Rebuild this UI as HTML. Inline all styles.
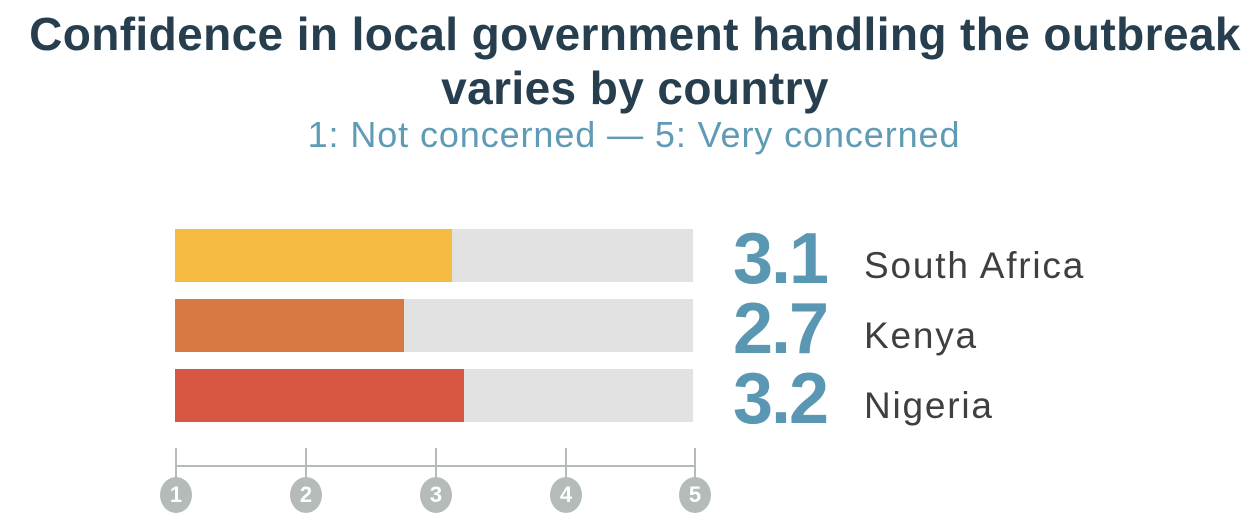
<!DOCTYPE html>
<html><head><meta charset="utf-8"><style>
body{margin:0;width:1260px;height:526px;background:#fff;font-family:"Liberation Sans",sans-serif;position:relative;overflow:hidden}
.t{position:absolute;left:0;width:1270px;text-align:center;font-weight:bold;color:#263e4d;font-size:46px;line-height:52px;letter-spacing:0.4px;white-space:nowrap}
.s{position:absolute;left:0;width:1268px;text-align:center;color:#5f9bb5;font-size:36px;letter-spacing:0.9px;top:114px}
.bg{position:absolute;left:175px;width:518px;height:53px;background:#e1e2e1}
.f{position:absolute;left:0;top:0;height:53px}
.n{position:absolute;left:733px;font-weight:bold;color:#5a97b3;font-size:72px;line-height:72px;letter-spacing:-2px}
.l{position:absolute;left:864px;color:#3f3f3f;font-size:37px;letter-spacing:1.8px}
.c{position:absolute;top:477px;width:32px;height:36px;border-radius:50%;background:#b4bbb9;color:#fff;font-weight:bold;font-size:22px;text-align:center;line-height:36px}
</style></head><body>
<div class="t" style="top:8px">Confidence in local government handling the outbreak</div>
<div class="t" style="top:62px">varies by country</div>
<div class="s">1: Not concerned — 5: Very concerned</div>
<div class="bg" style="top:229px"><div class="f" style="width:277px;background:#f5bb42"></div></div>
<div class="bg" style="top:299px"><div class="f" style="width:229px;background:#d87944"></div></div>
<div class="bg" style="top:369px"><div class="f" style="width:289px;background:#d75744"></div></div>
<div class="n" style="top:223px">3.1</div><div class="l" style="top:245px">South Africa</div>
<div class="n" style="top:293px">2.7</div><div class="l" style="top:315px">Kenya</div>
<div class="n" style="top:363px">3.2</div><div class="l" style="top:385px">Nigeria</div>
<div style="position:absolute;left:176px;top:465px;width:519px;height:2px;background:#b4bbb9"></div>
<div style="position:absolute;left:175px;top:448px;width:2px;height:30px;background:#b4bbb9"></div>
<div style="position:absolute;left:305px;top:448px;width:2px;height:30px;background:#b4bbb9"></div>
<div style="position:absolute;left:435px;top:448px;width:2px;height:30px;background:#b4bbb9"></div>
<div style="position:absolute;left:565px;top:448px;width:2px;height:30px;background:#b4bbb9"></div>
<div style="position:absolute;left:694px;top:448px;width:2px;height:30px;background:#b4bbb9"></div>
<div class="c" style="left:160px">1</div>
<div class="c" style="left:290px">2</div>
<div class="c" style="left:420px">3</div>
<div class="c" style="left:550px">4</div>
<div class="c" style="left:679px">5</div>
</body></html>
